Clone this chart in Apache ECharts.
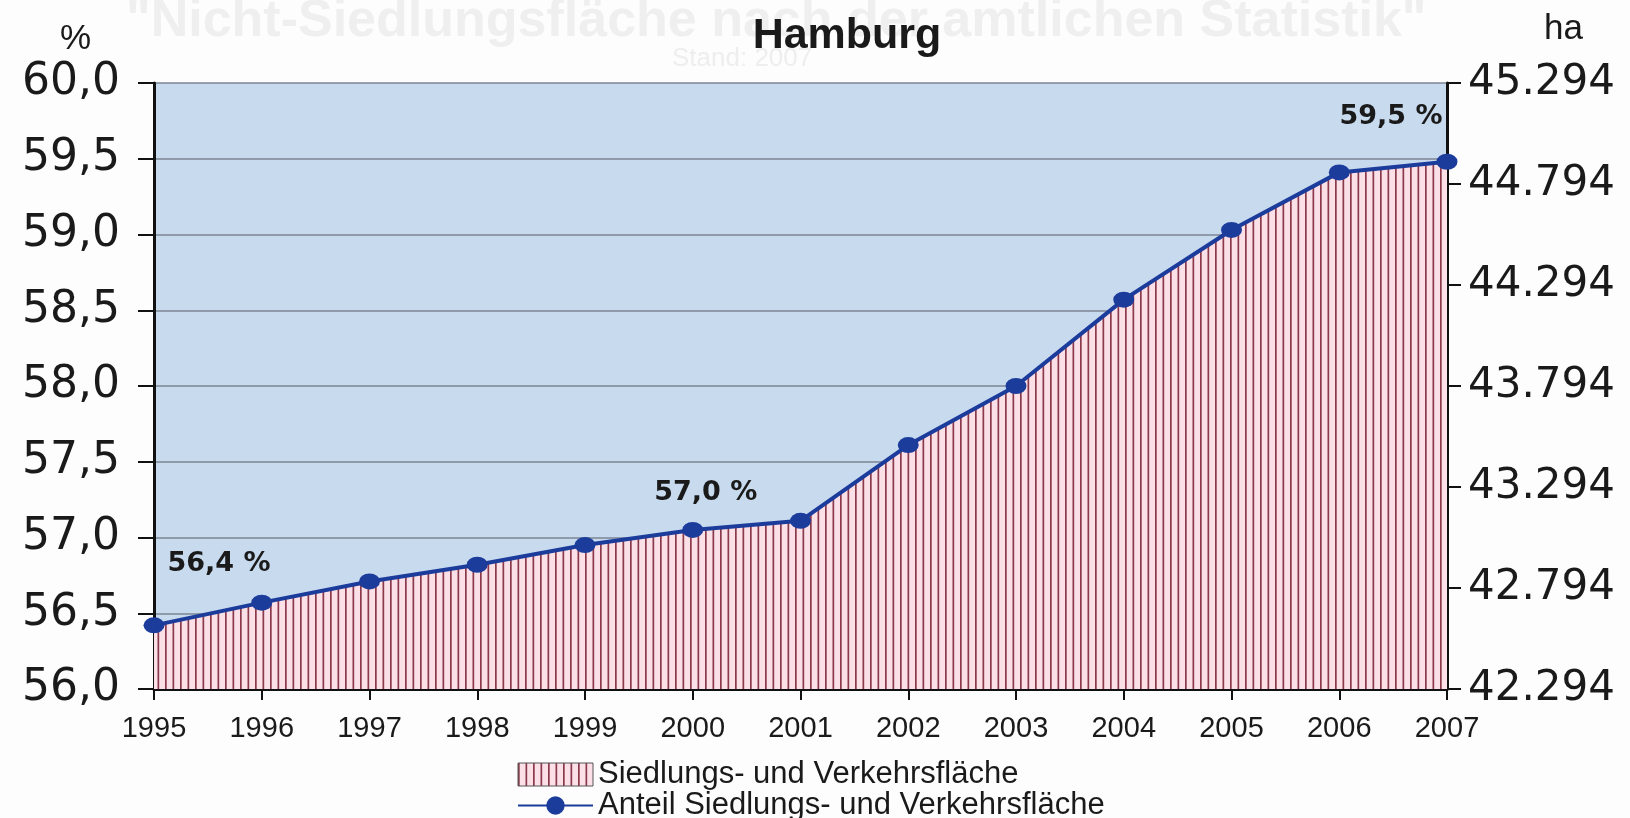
<!DOCTYPE html>
<html>
<head>
<meta charset="utf-8">
<script src="https://cdn.jsdelivr.net/npm/echarts@6/dist/echarts.min.js"></script>
<style>html,body{margin:0;padding:0;background:#fdfdfd;}#c{width:1630px;height:818px;}</style>
</head>
<body>
<div id="c"></div>
<script>
const years = ['1995','1996','1997','1998','1999','2000','2001','2002','2003','2004','2005','2006','2007'];
const anteilPct = [56.42, 56.57, 56.71, 56.82, 56.95, 57.05, 57.11, 57.61, 58.0, 58.57, 59.03, 59.41, 59.48];
const flaecheHa = [42609, 42722, 42827, 42909, 43007, 43082, 43127, 43502, 43794, 44222, 44567, 44852, 44904];
const leftTicksMin = 56, leftTicksMax = 60, leftInterval = 0.5;
const rightTicks = [42294, 42794, 43294, 43794, 44294, 44794, 45294];
const labelledPoints = {0: '56,4 %', 5: '57,0 %', 12: '59,5 %'};

const areaName = 'Siedlungs- und Verkehrsfläche';
const lineName = 'Anteil Siedlungs- und Verkehrsfläche';

// hatch pattern
const pc = document.createElement('canvas');
pc.width = 15; pc.height = 10;
const g = pc.getContext('2d');
g.fillStyle = '#fbe0e8';
g.fillRect(0, 0, 15, 10);
g.fillStyle = '#8a3a4a';
g.fillRect(0, 0, 1.7, 10);
g.fillRect(7.5, 0, 1.7, 10);
const hatch = {image: pc, repeat: 'repeat'};

const labelOffsets = {0: [65, -61], 5: [13, -37], 12: [-56, -45]};
const lineData = anteilPct.map((v, i) => {
  if (labelledPoints[i] !== undefined) {
    return {value: v, label: {show: true, position: 'inside', offset: labelOffsets[i],
      formatter: labelledPoints[i], fontFamily: 'DejaVu Sans', fontWeight: 'bold', fontSize: 27, color: '#1a1a1a'}};
  }
  return v;
});

const chart = echarts.init(document.getElementById('c'), null, {renderer: 'canvas'});
chart.setOption({
  backgroundColor: '#fdfdfd',
  animation: false,
  graphic: [
    {type: 'text', left: 126, top: -4, style: {text: '"Nicht-Siedlungsfläche nach der amtlichen Statistik"', font: 'bold 52px "Liberation Sans"', fill: '#efefef'}, z: -10},
    {type: 'text', left: 672, top: 46, style: {text: 'Stand: 2007', font: '26px "Liberation Sans"', fill: '#eeeeee'}, z: -10},
    {type: 'text', left: 60, top: 22, style: {text: '%', font: '35px "Liberation Sans"', fill: '#1a1a1a'}},
    {type: 'text', left: 1544, top: 12, style: {text: 'ha', font: '35px "Liberation Sans"', fill: '#1a1a1a'}}
  ],
  title: {
    text: 'Hamburg', left: 842, top: 10, textAlign: 'center',
    textStyle: {fontFamily: 'Liberation Sans', fontWeight: 'bold', fontSize: 43, color: '#1a1a1a'}
  },
  grid: {left: 154, right: 183, top: 83, bottom: 129, show: true, backgroundColor: '#c8daee', borderWidth: 0},
  legend: {
    orient: 'vertical', left: 512, top: 754, height: 120, itemGap: 0, itemWidth: 75, itemHeight: 23,
    textStyle: {fontFamily: 'Liberation Sans', fontSize: 31, lineHeight: 30, color: '#1a1a1a'},
    data: [
      {name: areaName, icon: 'rect', itemStyle: {color: hatch, borderColor: '#555', borderWidth: 1}},
      {name: lineName}
    ]
  },
  xAxis: {
    type: 'category', data: years, boundaryGap: false,
    axisLine: {lineStyle: {color: '#111', width: 3}},
    axisTick: {show: true, length: 11, lineStyle: {color: '#111', width: 2}},
    axisLabel: {margin: 25, fontFamily: 'Liberation Sans', fontSize: 29, color: '#1a1a1a'},
    splitLine: {show: false}
  },
  yAxis: [
    {
      type: 'value', min: leftTicksMin, max: leftTicksMax, interval: leftInterval, position: 'left',
      axisLine: {show: true, lineStyle: {color: '#111', width: 3}},
      axisTick: {show: true, length: 16, lineStyle: {color: '#111', width: 2}},
      axisLabel: {margin: 34, fontFamily: 'DejaVu Sans', fontSize: 44, color: '#1a1a1a',
        formatter: v => v.toFixed(1).replace('.', ',')},
      splitLine: {show: true, lineStyle: {color: '#7d8593', width: 1.5}}
    },
    {
      type: 'value', min: rightTicks[0], max: rightTicks[rightTicks.length - 1], position: 'right',
      axisLine: {show: true, lineStyle: {color: '#111', width: 3}},
      axisTick: {show: true, length: 14, customValues: rightTicks, lineStyle: {color: '#111', width: 2}},
      axisLabel: {margin: 21, fontFamily: 'DejaVu Sans', fontSize: 42, color: '#1a1a1a', customValues: rightTicks,
        formatter: v => String(v).replace(/(\d)(\d{3})$/, '$1.$2')},
      splitLine: {show: false}
    }
  ],
  series: [
    {
      name: areaName, type: 'line', yAxisIndex: 1, data: flaecheHa,
      symbol: 'none', lineStyle: {width: 0}, itemStyle: {color: '#c04050'},
      areaStyle: {color: hatch, opacity: 1}, z: 1
    },
    {
      name: lineName, type: 'line', yAxisIndex: 0, data: lineData,
      symbol: 'circle', symbolSize: [21, 16],
      lineStyle: {color: '#1c3c9c', width: 4}, itemStyle: {color: '#1c3c9c'}, z: 3
    }
  ]
});
</script>
</body>
</html>
